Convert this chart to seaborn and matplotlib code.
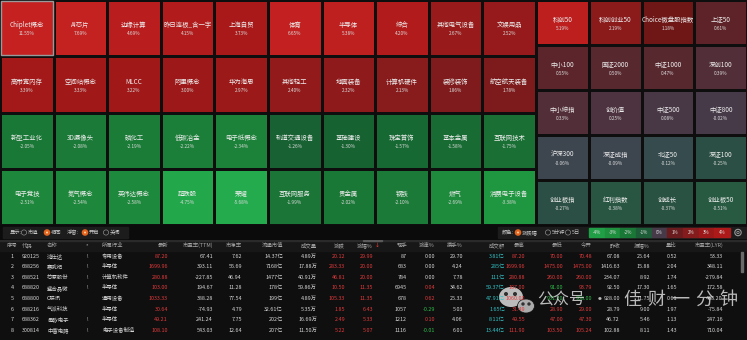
import numpy as np
import pandas as pd
import matplotlib
matplotlib.use("Agg")
import matplotlib.pyplot as plt
import seaborn as sns
from matplotlib.colors import LinearSegmentedColormap, Normalize
from matplotlib.patches import Rectangle, Circle, Ellipse

sns.set_style("dark")
plt.rcParams['font.family'] = ['Noto Sans CJK SC', 'DejaVu Sans']
plt.rcParams['axes.unicode_minus'] = False

# ---------------- data ----------------
sector_names = [
    "Chiplet概念", "AI芯片", "边缘计算", "昨日连板_含一字", "上海自贸", "体育", "半导体", "综合", "其他电气设备", "文娱用品",
    "高带宽内存", "空间站概念", "MLCC", "阿里概念", "华为海思", "其他轻工", "地面装备", "计算机硬件", "装修装饰", "航空航天装备",
    "新型工业化", "3D摄像头", "磷化工", "低碳冶金", "电子纸概念", "轨道交通设备", "基础建设", "珠宝首饰", "基本金属", "互联网技术",
    "电子竞技", "氮气概念", "英伟达概念", "超跌股", "荣耀", "互联网服务", "贵金属", "钢铁", "燃气", "消费电子设备",
]
sector_pct = [
    11.55, 7.69, 4.69, 4.15, 3.73, 6.65, 5.38, 4.20, 2.67, 2.52,
    3.39, 3.33, 3.22, 3.00, 2.97, 2.40, 2.32, 2.13, 1.86, 1.78,
    -2.05, -2.08, -2.19, -2.22, -2.34, -1.26, -1.30, -1.57, -1.58, -1.75,
    -2.51, -2.54, -2.58, -4.75, -5.68, -1.99, -2.02, -2.10, -2.69, -3.38,
]
index_names = [
    "科创50", "科创创业50", "Choice微盘股指数", "上证50",
    "中小100", "国证2000", "中证1000", "深创100",
    "中小综指", "创价值", "中证500", "中证800",
    "沪深300", "深证成指", "北证50", "深证100",
    "创业板指", "红利指数", "创成长", "创业板50",
]
index_pct = [
    5.19, 2.19, 1.18, 0.61,
    0.55, 0.50, 0.47, 0.39,
    0.33, 0.25, 0.08, -0.02,
    -0.06, -0.09, -0.12, -0.25,
    -0.27, -0.38, -0.37, -0.51,
]
legend_values = [-4, -3, -2, -1, 0, 1, 2, 3, 4]

headers = ["序号", "代码", "名称", "*", "所属行业", "最新", "市盈率(TTM)", "市净率", "流通市值", "成交量",
           "涨跌", "涨幅%", "现手", "涨速%", "换手%", "成交额", "最高", "最低", "今开", "昨收", "振幅%", "量比", "市盈率(LYR)"]
codes = ["920125", "688256", "688521", "688820", "688800", "688216", "688362", "300814"]
names = ["鸿仕达", "寒武纪", "芯原股份", "盛合晶微", "C联讯", "气派科技", "甬矽电子", "中富电路"]
flags = [True, True, True, True, False, False, True, True]
industries = ["专用设备", "半导体", "计算机软件", "半导体", "通用设备", "半导体", "半导体", "电子设备制造"]
latest = [87.20, 1699.96, 280.88, 103.00, 1033.33, 30.64, 49.21, 108.10]
pe_ttm = [67.41, 393.11, -227.85, 194.67, 388.28, -74.93, 241.24, 543.03]
pb = [7.62, 55.69, 46.94, 11.28, 77.54, 4.79, 7.75, 12.64]
float_cap = ["14.37亿", "7168亿", "1477亿", "178亿", "199亿", "32.61亿", "202亿", "207亿"]
volume = ["4.89万", "17.88万", "40.91万", "59.86万", "4.89万", "5.35万", "16.69万", "11.50万"]
change = [20.12, 283.33, 46.81, 10.50, 105.33, 1.85, 2.49, 5.22]
pct_change = [29.99, 20.00, 20.00, 11.35, 11.35, 6.43, 5.33, 5.07]
last_hand = [87, 683, 784, 6945, 678, 1057, 1212, 1116]
speed = [0.00, 0.00, 0.00, 0.04, 0.62, -0.29, 0.10, -0.01]
turnover = [29.70, 4.24, 7.78, 34.62, 25.33, 5.03, 4.06, 6.01]
amount = ["3.81亿", "285亿", "111亿", "59.37亿", "47.91亿", "1.65亿", "8.11亿", "13.44亿"]
high = [87.20, 1699.96, 280.88, 107.00, 1060.00, 31.49, 49.55, 111.90]
low = [70.00, 1475.00, 260.00, 91.00, 951.00, 28.90, 47.00, 103.50]
open_ = [70.48, 1475.00, 260.00, 93.79, 958.00, 29.00, 47.30, 105.24]
prev_close = [67.08, 1416.63, 234.07, 92.50, 928.00, 28.79, 46.72, 102.88]
amplitude = [25.64, 15.88, 8.92, 17.30, 11.75, 9.00, 5.46, 8.11]
vol_ratio = [0.52, 2.04, 1.74, 1.65, 0.61, 1.97, 1.13, 1.43]
pe_lyr = [53.33, 348.11, -279.84, 172.58, 488.20, -75.84, 247.16, 710.04]

# ---------------- styling ----------------
W, H = 747, 340
BG = "#0b0b0b"
RED, GREEN, CYAN, WHITE, GREY = "#e23a3c", "#2fbf4c", "#33c3c6", "#d6d6d6", "#a6a6a6"

VMIN, VMAX = -6, 12
nodes = [(-6, "#23ad4f"), (-4.5, "#22a54a"), (-3.4, "#1f9640"), (-2.5, "#1d873b"),
         (-2.0, "#1a7636"), (-1.3, "#166131"), (-0.5, "#285a42"), (-0.25, "#2c4d44"),
         (-0.1, "#394a51"), (0.0, "#463a49"), (0.3, "#50303b"), (0.6, "#5d2429"),
         (1.2, "#6f1616"), (1.8, "#7e1b1c"), (2.5, "#951a1b"), (3.3, "#a11818"),
         (4.5, "#b71c1c"), (6.0, "#c32121"), (12, "#c52121")]
cmap = LinearSegmentedColormap.from_list(
    "updown", [((v - VMIN) / (VMAX - VMIN), c) for v, c in nodes])
norm = Normalize(VMIN, VMAX)

fig = plt.figure(figsize=(W / 100, H / 100), dpi=100, facecolor=BG)


def px_axes(x0, y0, x1, y1):
    return fig.add_axes([x0 / W, 1 - y1 / H, (x1 - x0) / W, (y1 - y0) / H])


def draw_grid(ax, labels, vals, ncol, name_y, pct_y):
    nrow = len(vals) // ncol
    df = pd.DataFrame(np.array(vals).reshape(nrow, ncol))
    sns.heatmap(df, ax=ax, cmap=cmap, vmin=VMIN, vmax=VMAX, cbar=False,
                linewidths=1.0, linecolor="#0e0e0e",
                xticklabels=False, yticklabels=False)
    for k, (lab, v) in enumerate(zip(labels, vals)):
        r, c = divmod(k, ncol)
        ax.text(c + 0.5, r + name_y, lab, ha="center", va="center",
                fontsize=4.6, color="#ededed")
        ax.text(c + 0.5, r + pct_y, f"{v:.2f}%", ha="center", va="center",
                fontsize=3.4, color="#dcdcdc")
    for s in ax.spines.values():
        s.set_visible(False)
    ax.set_xlabel("")
    ax.set_ylabel("")


ax_l = px_axes(0, 0, 536, 225)
draw_grid(ax_l, sector_names, sector_pct, 10, 0.45, 0.60)
ax_l.add_patch(Rectangle((0.02, 0.02), 0.96, 0.96, fill=False,
                         edgecolor="#9a9a9a", lw=1.0))

ax_r = px_axes(536, 0, W, 225)
draw_grid(ax_r, index_names, index_pct, 4, 0.44, 0.63)

# ---------------- control bar ----------------
axc = px_axes(0, 225, W, 241)
axc.set_xlim(0, W)
axc.set_ylim(241, 225)
axc.axis("off")
axc.add_patch(Rectangle((0, 225), W, 16, color=BG))
axc.add_patch(Rectangle((3, 227), 125, 11, color="#1c1c1c"))
axc.add_patch(Rectangle((498, 227), 249, 11, color="#1c1c1c"))
cy = 232.5


def radio(x, on):
    if on:
        axc.add_patch(Circle((x, cy), 2.6, facecolor="#e2641f", edgecolor="#e2641f"))
        axc.add_patch(Circle((x, cy), 1.0, facecolor="#ffd0a0", edgecolor="none"))
    else:
        axc.add_patch(Circle((x, cy), 2.6, facecolor="none", edgecolor="#8a8a8a", lw=0.5))


def ctext(x, s):
    axc.text(x, cy, s, ha="left", va="center", fontsize=3.8, color="#c8c8c8")


ctext(10, "显示:")
radio(24, False); ctext(28, "市值")
radio(47, True); ctext(51, "相同")
ctext(67, "浮窗:")
radio(85, True); ctext(89, "开启")
radio(106, False); ctext(110, "关闭")
ctext(502, "颜色:")
radio(518, True); ctext(522, "涨跌幅")
radio(548, False); ctext(552, "5分钟")
radio(568, False); ctext(572, "5日")
bw = (730 - 589) / len(legend_values)
for i, v in enumerate(legend_values):
    axc.add_patch(Rectangle((589 + i * bw, 227.5), bw, 9, color=cmap(norm(v))))
    axc.text(589 + (i + 0.5) * bw, 232, f"{v}%", ha="center", va="center",
             fontsize=3.3, color="#e0e0e0")
axc.add_patch(Circle((738, cy), 3.2, facecolor="none", edgecolor="#9a9a9a", lw=0.8))
axc.add_patch(Circle((738, cy), 1.2, facecolor="none", edgecolor="#9a9a9a", lw=0.6))

# ---------------- table ----------------
axt = px_axes(0, 240, W, H)
axt.set_xlim(0, W)
axt.set_ylim(H, 240)
axt.axis("off")
axt.add_patch(Rectangle((0, 240), W, 100, color="#0f0f0f"))
axt.add_patch(Rectangle((0, 240), W, 11, color="#171717"))
axt.add_patch(Rectangle((0, 240), W, 0.8, color="#2a2a2a"))
axt.add_patch(Rectangle((363, 239.6), 19, 1.6, color="#5a5a5a"))
axt.add_patch(Rectangle((740.5, 252), 2.5, 20, color="#6a6a6a"))

# column x positions and alignment (layout)
col_x = [12, 22, 47, 87, 102, 168, 213, 242, 283, 317, 345, 373, 407, 435, 463, 505,
         525, 563, 592, 620, 650, 677, 723]
col_ha = ["center", "left", "left", "center", "left"] + ["right"] * 18
hy = 245.5
for x, ha, h in zip(col_x, col_ha, headers):
    axt.text(x, hy, h, ha=ha, va="center", fontsize=3.9, color=GREY)
axt.text(375, hy, "↓", ha="left", va="center", fontsize=4.2, color=RED,
         family=["DejaVu Sans"])

color_override = {(4, 17): GREEN, (4, 18): GREEN}


def pc(v, ref):
    return RED if v > ref else (GREEN if v < ref else WHITE)


for i in range(len(codes)):
    y = 256.3 + i * 10.55
    cells = [
        (str(i + 1), WHITE), (codes[i], WHITE), (names[i], WHITE),
        ("!" if flags[i] else "", "#cfcfcf"), (industries[i], WHITE),
        (f"{latest[i]:.2f}", pc(latest[i], prev_close[i])),
        (f"{pe_ttm[i]:.2f}", WHITE), (f"{pb[i]:.2f}", WHITE),
        (float_cap[i], WHITE), (volume[i], WHITE),
        (f"{change[i]:.2f}", pc(change[i], 0)), (f"{pct_change[i]:.2f}", pc(pct_change[i], 0)),
        (str(last_hand[i]), WHITE), (f"{speed[i]:.2f}", pc(speed[i], 0)),
        (f"{turnover[i]:.2f}", WHITE), (amount[i], CYAN),
        (f"{high[i]:.2f}", pc(high[i], prev_close[i])),
        (f"{low[i]:.2f}", pc(low[i], prev_close[i])),
        (f"{open_[i]:.2f}", pc(open_[i], prev_close[i])),
        (f"{prev_close[i]:.2f}", WHITE), (f"{amplitude[i]:.2f}", WHITE),
        (f"{vol_ratio[i]:.2f}", WHITE), (f"{pe_lyr[i]:.2f}", WHITE),
    ]
    for j, ((txt, colr), x, ha) in enumerate(zip(cells, col_x, col_ha)):
        colr = color_override.get((i, j), colr)
        axt.text(x, y, txt, ha=ha, va="center", fontsize=3.9, color=colr)

# watermark
axt.add_patch(Ellipse((511, 297), 24, 20, facecolor="#dcdcdc", alpha=0.85, edgecolor="none"))
axt.add_patch(Ellipse((526, 306), 17, 14, facecolor="#bdbdbd", alpha=0.9, edgecolor="#0f0f0f", lw=0.6))
for ex, ey in [(506, 294), (515, 294)]:
    axt.add_patch(Circle((ex, ey), 1.3, color="#303030"))
for ex, ey in [(523, 304), (529, 304)]:
    axt.add_patch(Circle((ex, ey), 1.0, color="#303030"))
axt.text(537, 300, "公众号", ha="left", va="center", fontsize=11.5, color="#e6e6e6", alpha=0.8)
axt.text(600, 300, "·", ha="center", va="center", fontsize=11.5, color="#e6e6e6", alpha=0.8)
for k, ch in enumerate("佳财一分钟"):
    axt.text(632 + k * 24, 300, ch, ha="center", va="center", fontsize=13,
             color="#e6e6e6", alpha=0.8)

fig.savefig("out.png", dpi=100, facecolor=BG)
